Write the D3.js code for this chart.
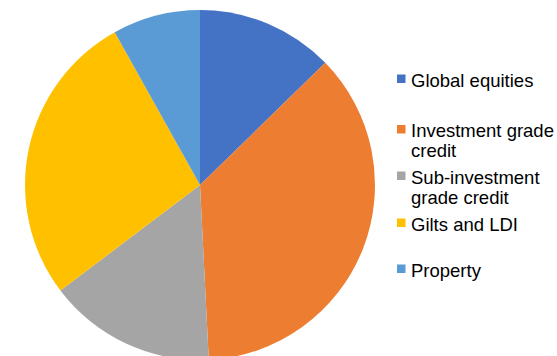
<!DOCTYPE html>
<html>
<head>
<meta charset="utf-8">
<script src="https://cdn.jsdelivr.net/npm/d3@7.9.0/dist/d3.min.js"></script>
<style>
  html, body { margin: 0; padding: 0; background: #fff; }
  svg { display: block; }
</style>
</head>
<body>
<svg id="chart" width="557" height="356"></svg>
<script>
const categories = ['Global equities', 'Investment grade credit', 'Sub-investment grade credit', 'Gilts and LDI', 'Property'];
const values = [12.7, 36.5, 15.5, 27.2, 8.1];
const colors = ['#4472C4', '#ED7D31', '#A5A5A5', '#FFC000', '#5B9BD5'];
// legend lines (wrapped like the original) and baselines of first lines
const legendLines = [['Global equities'], ['Investment grade', 'credit'], ['Sub-investment', 'grade credit'], ['Gilts and LDI'], ['Property']];
const legendY = [86.5, 137, 183.5, 230.5, 276.5];

const svg = d3.select('#chart');

const cx = 200, cy = 185, radius = 175;

const pie = d3.pie().sort(null).value(d => d.value);
const arc = d3.arc().innerRadius(0).outerRadius(radius);

const data = categories.map((c, i) => ({ name: c, value: values[i], color: colors[i] }));

svg.append('g')
  .attr('transform', `translate(${cx},${cy})`)
  .selectAll('path')
  .data(pie(data))
  .join('path')
    .attr('d', arc)
    .attr('fill', d => d.data.color);

// legend
const legend = svg.append('g')
  .attr('font-family', 'Liberation Sans, Arial, sans-serif')
  .attr('font-size', 18.5)
  .attr('fill', '#000');

const items = legend.selectAll('g')
  .data(data)
  .join('g')
    .attr('transform', (d, i) => `translate(397,${legendY[i]})`);

items.append('rect')
  .attr('x', 0)
  .attr('y', -12)
  .attr('width', 8.5)
  .attr('height', 8.5)
  .attr('fill', d => d.color);

items.append('text')
  .attr('x', 14)
  .attr('y', 0)
  .selectAll('tspan')
  .data((d, i) => legendLines[i])
  .join('tspan')
    .attr('x', 14)
    .attr('dy', (d, j) => j === 0 ? 0 : 20)
    .text(d => d);
</script>
</body>
</html>
